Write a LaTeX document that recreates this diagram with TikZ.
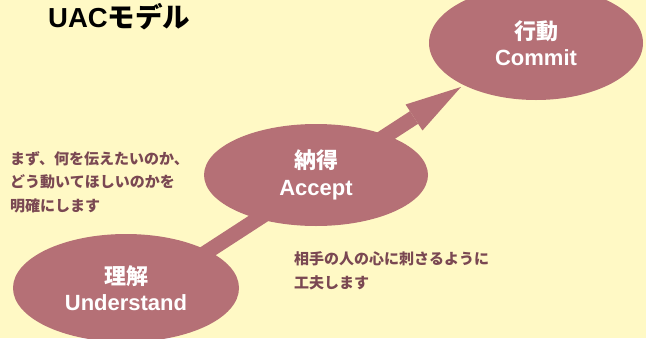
\documentclass[tikz,border=0pt]{standalone}
\usepackage{fontspec}
\setmainfont{Liberation Sans}
\newfontfamily\jp{Noto Sans CJK JP}
\newfontfamily\lat{Liberation Sans}
\usetikzlibrary{shapes.geometric,arrows.meta}
\definecolor{bgyellow}{RGB}{255,249,197}
\definecolor{mauve}{RGB}{181,112,118}
\definecolor{browntext}{RGB}{122,72,82}
\pgfdeclarelayer{arrowlayer}
\pgfsetlayers{arrowlayer,main}
\tikzset{
  stage/.style={ellipse, fill=mauve, draw=none, inner sep=0pt, text=white,
    align=center, font=\bfseries\fontsize{22}{26.5}\selectfont},
  note/.style={text=browntext, align=left, inner sep=0pt,
    font=\jp\bfseries\fontsize{15}{23.5}\selectfont},
  flow/.style={draw=mauve, line width=15pt,
    -{Triangle[length=56pt,width=31pt,line width=0pt]}}
}
\begin{document}
\begin{tikzpicture}[x=1pt,y=-1pt]
\begin{pgfonlayer}{arrowlayer}
\fill[bgyellow] (0,0) rectangle (646,338);
\end{pgfonlayer}
\useasboundingbox (0,0) rectangle (646,338);
\clip (0,0) rectangle (646,338);

\node[stage, minimum width=226pt, minimum height=108pt] (u) at (126,288)
  {{\jp 理解}\\{\lat Understand}};
\node[stage, minimum width=224pt, minimum height=102pt] (a) at (316,175)
  {{\jp 納得}\\{\lat Accept}};
\node[stage, minimum width=214pt, minimum height=114pt] (c) at (536,43)
  {{\jp 行動}\\{\lat Commit}};

\coordinate (s) at (176,272);
\coordinate (t) at (461,87);
\begin{pgfonlayer}{arrowlayer}
\draw[flow] (s) -- (t);
\end{pgfonlayer}

\node[anchor=base west, inner sep=0pt, font=\bfseries\fontsize{27.5}{30}\selectfont] (title) at (48,27)
  {{\lat UAC}{\jp モデル}};

\node[note, anchor=west] (n1) at (10,182)
  {まず、何を伝えたいのか、\\どう動いてほしいのかを\\明確にします};
\node[note, anchor=west] (n2) at (294,271)
  {相手の人の心に刺さるように\\工夫します};
\end{tikzpicture}
\end{document}
